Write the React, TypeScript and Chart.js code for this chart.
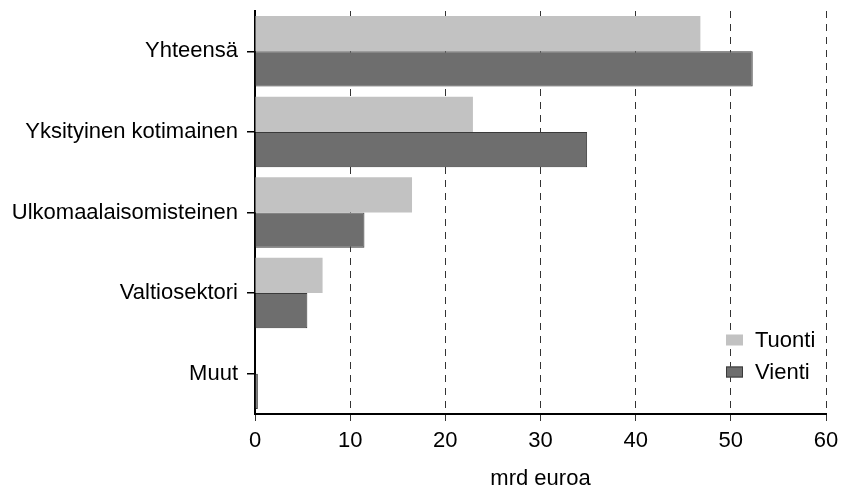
import React, { useEffect, useRef } from "react";
import { Chart, registerables } from "chart.js";

Chart.register(...registerables);

const categories = ["Yhteensä", "Yksityinen kotimainen", "Ulkomaalaisomisteinen", "Valtiosektori", "Muut"];
const tuonti = [46.8, 22.9, 16.5, 7.1, 0];
const vienti = [52.3, 34.9, 11.5, 5.5, 0.3];
const xTicks = [0, 10, 20, 30, 40, 50, 60];
const xTitle = "mrd euroa";

const FONT = "'Liberation Sans', Arial, Helvetica, sans-serif";
const FS = 22;

const legendPlugin = {
  id: "insideLegend",
  afterDraw(chart: any) {
    const { ctx, chartArea } = chart;
    const items = chart.data.datasets;
    const offsets = [74, 42];
    ctx.save();
    items.forEach((ds: any, i: number) => {
      const cy = chartArea.bottom - offsets[i];
      const bx = chartArea.right - 100;
      ctx.fillStyle = ds.backgroundColor;
      ctx.fillRect(bx, cy - 5.5, 17, 11);
      if (ds.borderWidth) {
        ctx.strokeStyle = ds.borderColor;
        ctx.lineWidth = 1;
        ctx.strokeRect(bx + 0.5, cy - 5, 16, 10);
      }
      ctx.fillStyle = "#000";
      ctx.font = `${FS}px ${FONT}`;
      ctx.textBaseline = "middle";
      ctx.textAlign = "left";
      ctx.fillText(ds.label, chartArea.right - 71, cy + 1);
    });
    ctx.restore();
  },
};

export default function App() {
  const ref = useRef<HTMLCanvasElement | null>(null);
  useEffect(() => {
    if (!ref.current) return;
    const chart = new Chart(ref.current, {
      type: "bar",
      data: {
        labels: categories,
        datasets: [
          { label: "Tuonti", data: tuonti, backgroundColor: "#c2c2c2", borderWidth: 0 },
          { label: "Vienti", data: vienti, backgroundColor: "#6e6e6e", borderColor: "#3a3a3a", borderWidth: 1 },
        ],
      },
      options: {
        indexAxis: "y",
        responsive: false,
        animation: false,
        maintainAspectRatio: false,
        layout: { padding: { top: 11, right: 15, bottom: 0, left: 0 } },
        datasets: { bar: { categoryPercentage: 0.875, barPercentage: 1 } },
        plugins: { legend: { display: false }, tooltip: { enabled: false } },
        scales: {
          x: {
            type: "linear",
            min: 0,
            max: 60,
            afterBuildTicks: (scale: any) => {
              scale.ticks = xTicks.map((v) => ({ value: v }));
            },
            afterFit: (scale: any) => {
              scale.height = 73;
              scale.paddingLeft = 0;
              scale.paddingRight = 0;
            },
            ticks: {
              color: "#000",
              font: { family: FONT, size: FS },
              padding: 7,
              maxRotation: 0,
            },
            grid: {
              color: "#333",
              lineWidth: 1,
              tickLength: 7,
              drawOnChartArea: true,
            },
            border: { display: true, color: "#000", width: 2, dash: [7, 6] },
            title: {
              display: true,
              text: xTitle,
              color: "#000",
              font: { family: FONT, size: FS, lineHeight: 1 },
              padding: { top: 0, bottom: -3 },
            },
          },
          y: {
            type: "category",
            afterFit: (scale: any) => {
              scale.width = 255;
              scale.paddingTop = 0;
              scale.paddingBottom = 0;
            },
            ticks: {
              color: "#000",
              font: { family: FONT, size: FS },
              padding: 9,
            },
            grid: {
              offset: false,
              drawOnChartArea: false,
              color: "#000",
              lineWidth: 1.5,
              tickLength: 8,
            },
            border: { display: true, color: "#000", width: 2 },
          },
        },
      },
      plugins: [legendPlugin],
    } as any);
    return () => chart.destroy();
  }, []);
  return (
    <div style={{ position: "fixed", left: 0, top: 0, width: 841, height: 487, background: "#fff" }}>
      <canvas ref={ref} width={841} height={487} style={{ width: 841, height: 487 }} />
    </div>
  );
}
